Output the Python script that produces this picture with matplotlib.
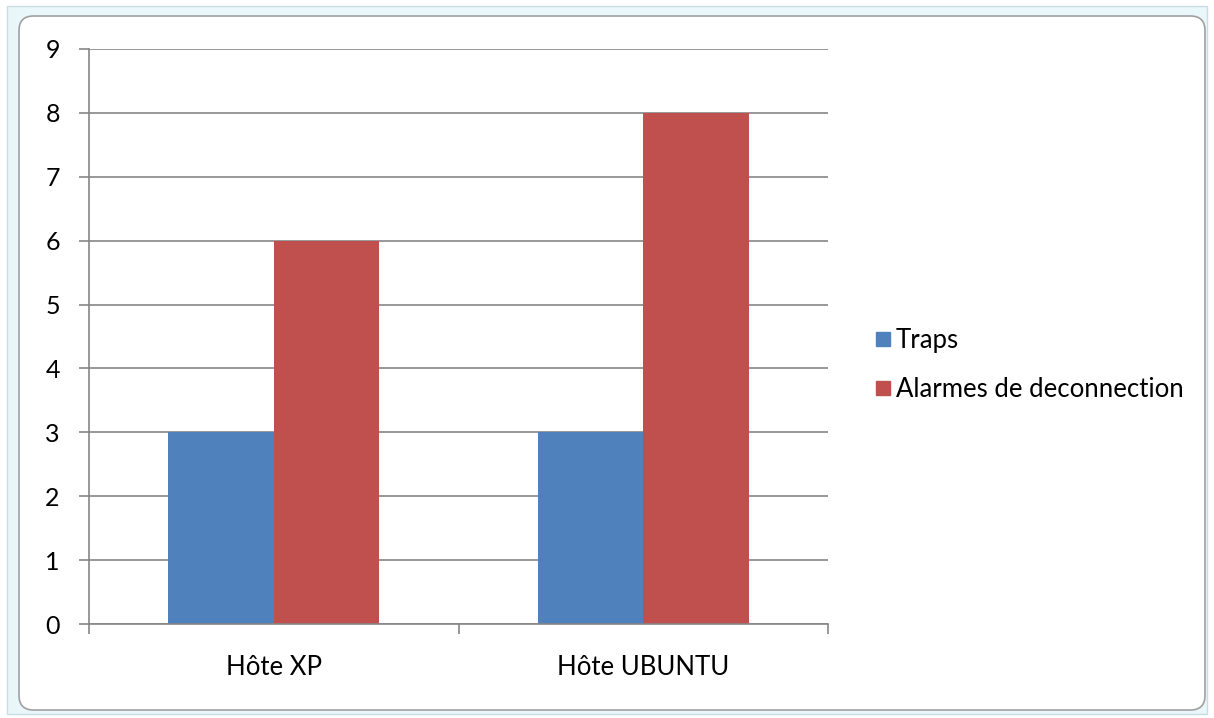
import matplotlib.pyplot as plt
import numpy as np
from matplotlib.patches import FancyBboxPatch, Rectangle
from matplotlib.lines import Line2D

categories = ["Hôte XP", "Hôte UBUNTU"]
series_names = ["Traps", "Alarmes de deconnection"]
traps = [3, 3]
alarmes = [6, 8]
y_ticks = list(range(0, 10))

blue = "#4F81BD"
red = "#C0504D"
grid_col = "#868686"

plt.rcParams['font.family'] = ['Lato', 'DejaVu Sans']

fig = plt.figure(figsize=(12.14, 7.18), dpi=100)

# window frame around the chart
outer = Rectangle((7 / 1214, 4 / 718), 1200 / 1214, 708 / 718, transform=fig.transFigure,
                  facecolor="#EAF7FA", edgecolor="#C8DDE3", lw=1.0, zorder=-2)
fig.patches.append(outer)
inner = FancyBboxPatch((19 / 1214, 8 / 718), 1186 / 1214, 694 / 718,
                       boxstyle="round,pad=0,rounding_size=0.012",
                       transform=fig.transFigure, facecolor="white",
                       edgecolor="#A0A0A0", lw=1.2, zorder=-1, mutation_aspect=1214 / 718)
fig.patches.append(inner)

ax = fig.add_axes([89 / 1214, 1 - 624 / 718, (828 - 89) / 1214, (624 - 49) / 718])
ax.set_zorder(2)
ax.set_facecolor("none")

x = np.arange(len(categories))
w = 1 / 3.5
ax.bar(x - w / 2, traps, width=w, color=blue, zorder=2)
ax.bar(x + w / 2, alarmes, width=w, color=red, zorder=2)

ax.set_xlim(-0.5, len(categories) - 0.5)
ax.set_ylim(0, 9)
ax.set_yticks(y_ticks)
ax.set_yticklabels([str(v) for v in y_ticks], fontsize=18, color="#000000")
ax.yaxis.grid(True, color=grid_col, lw=1.2, zorder=1)
ax.set_axisbelow(True)

ax.set_xticks(x)
ax.set_xticklabels(categories, fontsize=18.5)
ax.set_xticks(np.arange(-0.5, len(categories)), minor=True)
ax.tick_params(axis='x', which='major', length=0, pad=22)
ax.tick_params(axis='x', which='minor', length=7, color=grid_col, width=1.2)
ax.tick_params(axis='y', length=7, color=grid_col, width=1.2, pad=14)

for s in ["top", "right"]:
    ax.spines[s].set_visible(False)
for s in ["left", "bottom"]:
    ax.spines[s].set_color(grid_col)
    ax.spines[s].set_linewidth(1.2)

handles = [Line2D([], [], marker='s', linestyle='none', markersize=10, color=c)
           for c in (blue, red)]
leg = fig.legend(handles, series_names, loc="center left", bbox_to_anchor=(860 / 1214, 1 - 365 / 718),
                 frameon=False, fontsize=18.5, handletextpad=0.0, labelspacing=0.95,
                 borderaxespad=0, handlelength=1.0)
leg.set_zorder(3)

fig.savefig("out.png", dpi=100)
